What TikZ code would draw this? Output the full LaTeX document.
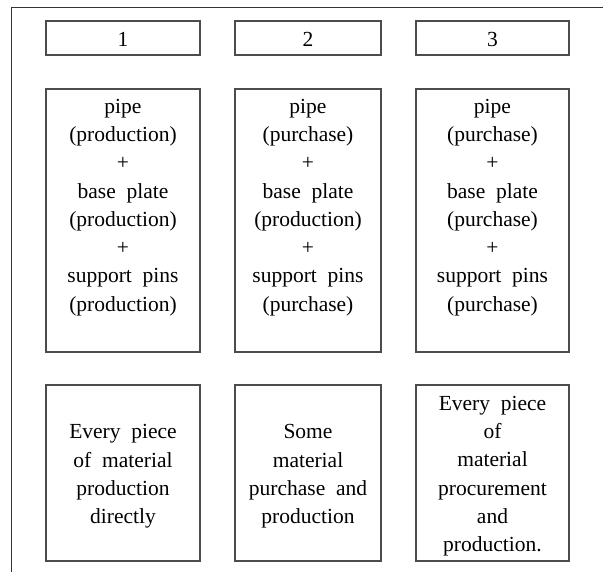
\documentclass[tikz,border=0pt]{standalone}
\usepackage{fontspec}
\setmainfont{Liberation Serif}[WordSpace=2]
\begin{document}
\begin{tikzpicture}[x=1pt,y=-1pt]
\tikzset{
  frame/.style={draw=black!80, line width=1pt, line join=miter},
  cell/.style={draw=black!70, line width=1.2pt, inner sep=0pt, outer sep=0pt},
  txt/.style={font=\fontsize{21.5}{28.3}\selectfont, align=center, inner sep=0pt, text=black},
}
\useasboundingbox (0,0) rectangle (603,572);
% outer frame (only left and top edges visible)
\coordinate (fa) at (11.5,572);
\coordinate (fc) at (11.5,8);
\coordinate (fb) at (603,8);
\draw[frame] (fa) -- (fc) -- (fb);

% top row
\node[cell, minimum width=154pt, minimum height=34pt] (t1) at (123,38) {};
\node[cell, minimum width=146pt, minimum height=34pt] (t2) at (308,38) {};
\node[cell, minimum width=153pt, minimum height=34pt] (t3) at (492.5,38) {};
\node[txt, anchor=base] (t1x) at (123,47) {1};
\node[txt, anchor=base] (t2x) at (308,47) {2};
\node[txt, anchor=base] (t3x) at (492.5,47) {3};

% middle row
\node[cell, minimum width=154pt, minimum height=263pt] (m1) at (123,220.5) {};
\node[cell, minimum width=146pt, minimum height=263pt] (m2) at (308,220.5) {};
\node[cell, minimum width=153pt, minimum height=263pt] (m3) at (492.5,220.5) {};
\node[txt, anchor=north] (m1x) at (123,97.5) {\rule{0pt}{15.5pt}pipe\\(production)\\+\\base plate\\(production)\\+\\support pins\\(production)};
\node[txt, anchor=north] (m2x) at (308,97.5) {\rule{0pt}{15.5pt}pipe\\(purchase)\\+\\base plate\\(production)\\+\\support pins\\(purchase)};
\node[txt, anchor=north] (m3x) at (492.5,97.5) {\rule{0pt}{15.5pt}pipe\\(purchase)\\+\\base plate\\(purchase)\\+\\support pins\\(purchase)};

% bottom row
\node[cell, minimum width=154pt, minimum height=176pt] (b1) at (123,473) {};
\node[cell, minimum width=146pt, minimum height=176pt] (b2) at (308,473) {};
\node[cell, minimum width=153pt, minimum height=176pt] (b3) at (492.5,473) {};
\node[txt, anchor=north] (b1x) at (123,423) {\rule{0pt}{15.5pt}Every piece\\of material\\production\\directly};
\node[txt, anchor=north] (b2x) at (308,423) {\rule{0pt}{15.5pt}Some\\material\\purchase and\\production};
\node[txt, anchor=north] (b3x) at (492.5,394.5) {\rule{0pt}{15.5pt}Every piece\\of\\material\\procurement\\and\\production.};
\end{tikzpicture}
\end{document}
